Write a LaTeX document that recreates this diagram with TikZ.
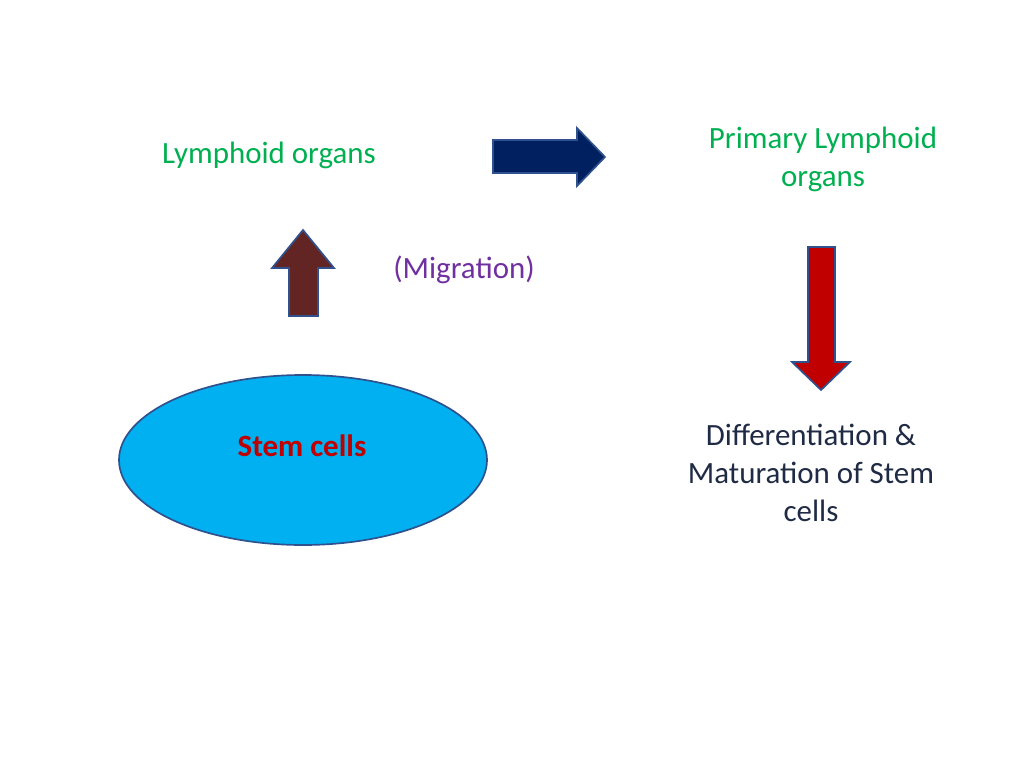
\documentclass[tikz,border=0pt]{standalone}
\usepackage{fontspec}
\setmainfont{Carlito}
\definecolor{lgreen}{HTML}{00B050}
\definecolor{navyblk}{HTML}{002060}
\definecolor{brownblk}{HTML}{632523}
\definecolor{redblk}{HTML}{C00000}
\definecolor{cellblue}{HTML}{00B0F0}
\definecolor{edgeblue}{HTML}{2F528F}
\definecolor{migr}{HTML}{7030A0}
\definecolor{darktxt}{HTML}{1F2A44}
\begin{document}
\begin{tikzpicture}[x=0.025cm,y=-0.025cm,
    lbl/.style={font=\fontsize{22}{27}\selectfont,align=center},
    blk/.style={draw=edgeblue,line width=1.2pt}]
        \useasboundingbox (0,0) rectangle (1024,768);

        \node[lbl,text=lgreen] (lymph) at (269,155) {Lymphoid organs};
        \node[lbl,text=lgreen] (prim) at (823,159) {Primary Lymphoid\\organs};
        \node[lbl,text=migr] (mig) at (464,270) {(Migration)};
        \node[lbl,text=darktxt] (diff) at (811,473) {Differentiation \&\\Maturation of Stem\\cells};

        \draw[blk,fill=cellblue] (303,460) ellipse [x radius=184,y radius=85];
        \node[lbl,text=redblk,font=\fontsize{22}{27}\selectfont\bfseries] (stem) at (302,446) {Stem cells};

        % block arrows
        \draw[blk,fill=navyblk] (493,140)--(577,140)--(577,128)--(605,157)--(577,186)--(577,173)--(493,173)--cycle;
        \draw[blk,fill=brownblk] (289,316)--(289,268)--(272,268)--(303,230)--(334,268)--(318,268)--(318,316)--cycle;
        \draw[blk,fill=redblk] (808,247)--(835,247)--(835,362)--(850,362)--(821,390)--(792,362)--(808,362)--cycle;
    \end{tikzpicture}
\end{document}
